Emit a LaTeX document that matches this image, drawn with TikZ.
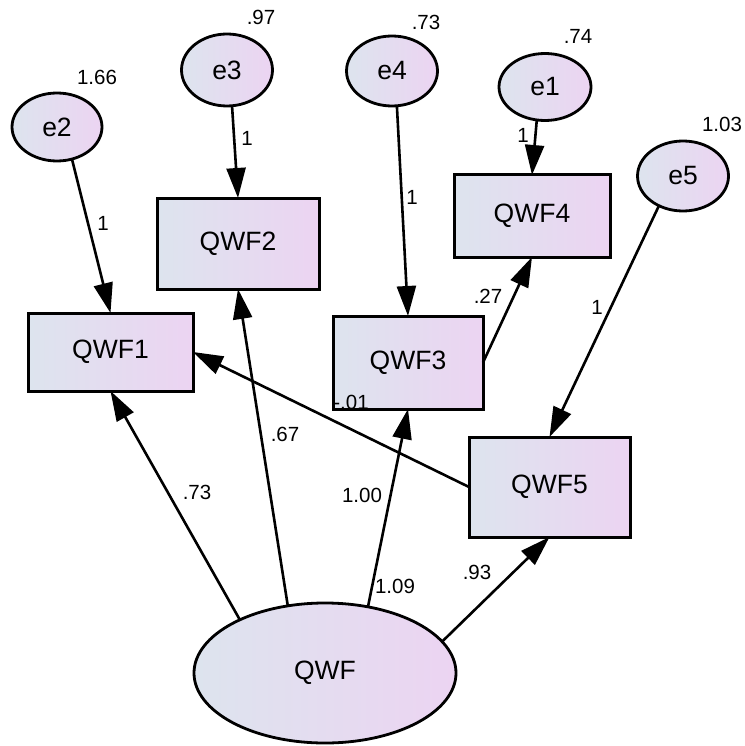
\documentclass[tikz,border=0pt]{standalone}
\usepackage{fontspec}
\setmainfont{Liberation Sans}
\usetikzlibrary{shapes.geometric,arrows.meta}
\definecolor{shadeL}{RGB}{221,228,238}
\definecolor{shadeR}{RGB}{236,212,242}
\begin{document}
\begin{tikzpicture}[x=1pt,y=-1pt,
  latent/.style={ellipse, draw, line width=2.8pt, left color=shadeL, right color=shadeR,
    inner sep=0pt, outer sep=0pt, font=\fontsize{26.5}{30}\selectfont},
  observed/.style={rectangle, draw, line width=3pt, left color=shadeL, right color=shadeR,
    inner sep=0pt, outer sep=0pt, font=\fontsize{26.5}{30}\selectfont},
  num/.style={inner sep=0pt, anchor=center, font=\fontsize{20.5}{24}\selectfont},
  link/.style={line width=2.6pt, -{Triangle[length=30pt,width=19pt]}},
]
\useasboundingbox (0,0) rectangle (744,746);

% error terms
\node[latent, minimum width=90pt, minimum height=68pt] (e2) at (57,127) {e2};
\node[latent, minimum width=91pt, minimum height=72pt] (e3) at (227,70) {e3};
\node[latent, minimum width=91pt, minimum height=70pt] (e4) at (392,71) {e4};
\node[latent, minimum width=92pt, minimum height=67pt] (e1) at (545,87) {e1};
\node[latent, minimum width=91pt, minimum height=70pt] (e5) at (683,176) {e5};

% observed indicators
\node[observed, minimum width=165pt, minimum height=78pt] (QWF1) at (110.5,352) {QWF1};
\node[observed, minimum width=162pt, minimum height=91pt] (QWF2) at (238,243.5) {QWF2};
\node[observed, minimum width=150pt, minimum height=93pt] (QWF3) at (408,362.5) {QWF3};
\node[observed, minimum width=156pt, minimum height=82pt] (QWF4) at (532,216) {QWF4};
\node[observed, minimum width=161pt, minimum height=100pt] (QWF5) at (549.5,487) {QWF5};

% latent factor
\node[latent, minimum width=262pt, minimum height=140pt] (QWF) at (325,673) {QWF};

% paths
\draw[link] (e2.-65) -- (QWF1.north);
\draw[link] (e3.-82) -- (QWF2.north);
\draw[link] (e4.-82) -- (QWF3.north);
\draw[link] (e1.-104) -- (QWF4.north);
\draw[link] (e5.-129) -- (QWF5.north);
\draw[link] (QWF3.east) -- (QWF4.south);
\draw[link] (QWF5.west) -- (QWF1.east);
\draw[link] (QWF.148) -- (QWF1.south);
\draw[link] (QWF.119) -- (QWF2.south);
\draw[link] (QWF.57) -- (QWF3.south);
\draw[link] (QWF.15) -- (QWF5.south);

% variances
\node[num] (v2) at (97,77) {1.66};
\node[num] (v3) at (261,17) {.97};
\node[num] (v4) at (426,22) {.73};
\node[num] (v1) at (578,36) {.74};
\node[num] (v5) at (722,124) {1.03};
\node[num] (vq) at (395,586) {1.09};

% path coefficients
\node[num] (w2) at (103,223) {1};
\node[num] (w3) at (247,138) {1};
\node[num] (w4) at (412,197) {1};
\node[num] (w1) at (523,135) {1};
\node[num] (w5) at (597,307) {1};
\node[num] (b34) at (488,296) {.27};
\node[num] (b51) at (351,402) {-.01};
\node[num] (l1) at (197,492) {.73};
\node[num] (l2) at (285,434) {.67};
\node[num] (l3) at (362,495) {1.00};
\node[num] (l5) at (477,572) {.93};
\end{tikzpicture}
\end{document}
